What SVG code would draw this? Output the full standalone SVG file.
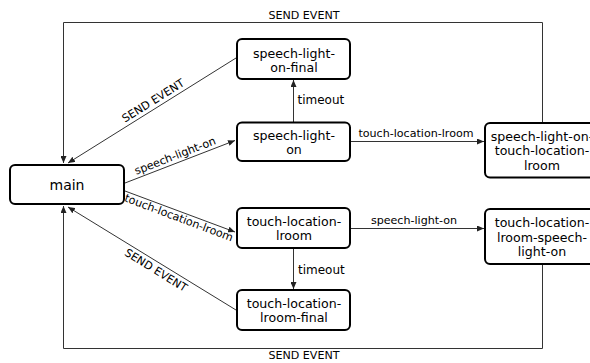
<svg xmlns="http://www.w3.org/2000/svg" width="590" height="363" viewBox="0 0 590 363">
  <style>
    .node rect { fill: #ffffff; stroke: #000000; stroke-width: 2; }
    .node text { font-family: "DejaVu Sans", sans-serif; font-size: 12.6px; fill: #000000; text-anchor: middle; }
    .node text.big { font-size: 14px; }
    .edge { fill: none; stroke: #333333; stroke-width: 1; }
    .lbl { font-family: "DejaVu Sans", sans-serif; font-size: 11.1px; fill: #000000; text-anchor: middle; }
    .lbl.t { font-size: 12px; text-anchor: start; }
  </style>
  <defs>
    <marker id="arrow" markerUnits="userSpaceOnUse" markerWidth="8" markerHeight="6" refX="7" refY="3" orient="auto">
      <path d="M0,0 L7,3 L0,6 Z" fill="#222222"/>
    </marker>
  </defs>
  <rect width="590" height="363" fill="#ffffff"/>

  <!-- transitions -->
  <g id="connectors">
    <!-- outer loop back to main from the upper combined state -->
    <polyline class="edge" points="542.5,122 542.5,22.5 63.5,22.5 63.5,163" marker-end="url(#arrow)"/>
    <text class="lbl" x="304" y="18.5">SEND EVENT</text>
    <!-- outer loop back to main from the lower combined state -->
    <polyline class="edge" points="542.5,265 542.5,348.5 63.5,348.5 63.5,206" marker-end="url(#arrow)"/>
    <text class="lbl" x="304" y="359">SEND EVENT</text>

    <line class="edge" x1="236" y1="58" x2="68" y2="163" marker-end="url(#arrow)"/>
    <text class="lbl" transform="translate(153,100.5) rotate(-32.2)" y="4">SEND EVENT</text>

    <line class="edge" x1="125" y1="183" x2="235" y2="140.5" marker-end="url(#arrow)"/>
    <text class="lbl" transform="translate(175,155.5) rotate(-21.2)" y="4">speech-light-on</text>

    <line class="edge" x1="125" y1="191" x2="235" y2="232" marker-end="url(#arrow)"/>
    <text class="lbl" transform="translate(179,217.5) rotate(20.6)" y="4">touch-location-lroom</text>

    <line class="edge" x1="236" y1="310" x2="68" y2="207" marker-end="url(#arrow)"/>
    <text class="lbl" transform="translate(156,270) rotate(31.7)" y="4">SEND EVENT</text>

    <line class="edge" x1="293.5" y1="122" x2="293.5" y2="80" marker-end="url(#arrow)"/>
    <text class="lbl t" x="297.5" y="104">timeout</text>

    <line class="edge" x1="293.5" y1="249" x2="293.5" y2="289" marker-end="url(#arrow)"/>
    <text class="lbl t" x="298" y="274">timeout</text>

    <line class="edge" x1="351" y1="141.5" x2="484" y2="141.5" marker-end="url(#arrow)"/>
    <text class="lbl" x="416" y="137">touch-location-lroom</text>

    <line class="edge" x1="351" y1="228.5" x2="484" y2="228.5" marker-end="url(#arrow)"/>
    <text class="lbl" x="414" y="224">speech-light-on</text>
  </g>

  <!-- states -->
  <g id="main" class="node">
    <rect x="10" y="165" width="114" height="39" rx="5"/>
    <text class="big" x="67" y="189.5">main</text>
  </g>
  <g id="speech-light-on-final" class="node">
    <rect x="237" y="39" width="113" height="40" rx="5"/>
    <text x="294" y="57.5">speech-light-</text>
    <text x="294" y="71.5">on-final</text>
  </g>
  <g id="speech-light-on" class="node">
    <rect x="237" y="122.5" width="113" height="38.5" rx="5"/>
    <text x="294" y="140">speech-light-</text>
    <text x="294" y="154">on</text>
  </g>
  <g id="speech-light-on-touch-location-lroom" class="node">
    <rect x="485" y="123" width="115" height="54.5" rx="5"/>
    <text x="542" y="140.5">speech-light-on-</text>
    <text x="542" y="155">touch-location-</text>
    <text x="542" y="169.5">lroom</text>
  </g>
  <g id="touch-location-lroom" class="node">
    <rect x="237" y="208" width="113" height="40" rx="5"/>
    <text x="294" y="226">touch-location-</text>
    <text x="294" y="240">lroom</text>
  </g>
  <g id="touch-location-lroom-final" class="node">
    <rect x="237" y="290" width="113" height="40" rx="5"/>
    <text x="294" y="308">touch-location-</text>
    <text x="294" y="322">lroom-final</text>
  </g>
  <g id="touch-location-lroom-speech-light-on" class="node">
    <rect x="485" y="209" width="115" height="55" rx="5"/>
    <text x="542" y="227">touch-location-</text>
    <text x="542" y="241.5">lroom-speech-</text>
    <text x="542" y="256">light-on</text>
  </g>
</svg>
